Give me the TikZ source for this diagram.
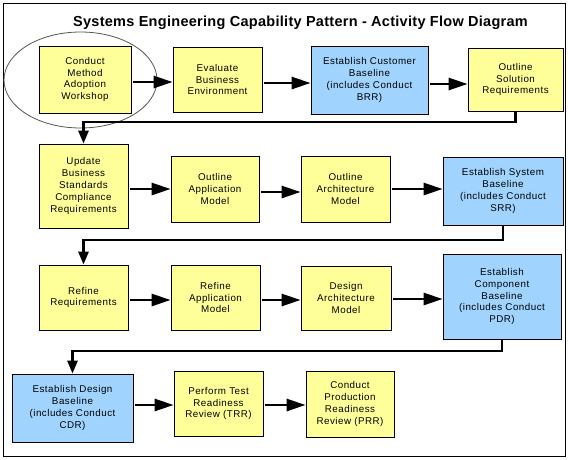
\documentclass[tikz,border=0pt]{standalone}
\usepackage{fontspec}
\setmainfont{Liberation Sans}
\newfontfamily\boxfont[LetterSpace=5]{Liberation Sans}
\newfontfamily\titlefont[LetterSpace=2]{Liberation Sans}
\usetikzlibrary{arrows.meta,shapes.geometric}
\definecolor{boxyellow}{RGB}{255,255,153}
\definecolor{boxblue}{RGB}{160,212,255}
\definecolor{ellgray}{RGB}{85,85,85}
\begin{document}
\begin{tikzpicture}[x=1pt,y=-1pt,
  box/.style={draw=black, line width=0.8pt, align=center, inner sep=1pt,
    font=\boxfont\fontsize{9.8}{11.8}\selectfont},
  ybox/.style={box, fill=boxyellow},
  bbox/.style={box, fill=boxblue},
  arr/.style={line width=2.7pt, shorten <=2pt, -{Triangle[length=19pt,width=12pt]}},
  darr/.style={line width=2.7pt, -{Triangle[length=13pt,width=10pt]}},
  frame/.style={draw=black, line width=1pt},
  ring/.style={draw=ellgray, line width=0.8pt}
]
\useasboundingbox (0,0) rectangle (568,459);
\draw[frame] (3,3) rectangle (565,456);
\node[anchor=base, font=\titlefont\bfseries\fontsize{14.5}{17}\selectfont] (title) at (300.5,26.7)
  {Systems Engineering Capability Pattern - Activity Flow Diagram};

% row 1
\node[ybox, minimum width=92, minimum height=67] (A) at (85,79.5) {Conduct\\Method\\Adoption\\Workshop};
\node[ybox, minimum width=89, minimum height=65] (B) at (217.5,79.5) {Evaluate\\Business\\Environment};
\node[bbox, minimum width=117, minimum height=68] (C) at (369.5,80) {Establish Customer\\Baseline\\(includes Conduct\\BRR)};
\node[ybox, minimum width=95, minimum height=63] (D) at (515.5,79.5) {Outline\\Solution\\Requirements};
% row 2
\node[ybox, minimum width=89, minimum height=84] (E) at (83.5,186) {Update\\Business\\Standards\\Compliance\\Requirements};
\node[ybox, minimum width=88, minimum height=66] (F) at (215,189) {Outline\\Application\\Model};
\node[ybox, minimum width=89, minimum height=66] (G) at (345.5,189) {Outline\\Architecture\\Model};
\node[bbox, minimum width=120, minimum height=68] (H) at (503,191) {Establish System\\Baseline\\(includes Conduct\\SRR)};
% row 3
\node[ybox, minimum width=89, minimum height=65] (I) at (83.5,297.5) {Refine\\Requirements};
\node[ybox, minimum width=89, minimum height=65] (J) at (215.5,297.5) {Refine\\Application\\Model};
\node[ybox, minimum width=90, minimum height=64] (K) at (346,298) {Design\\Architecture\\Model};
\node[bbox, minimum width=118, minimum height=85] (L) at (502,296.5) {Establish\\Component\\Baseline\\(includes Conduct\\PDR)};
% row 4
\node[bbox, minimum width=121, minimum height=68] (M) at (72.5,408) {Establish Design\\Baseline\\(includes Conduct\\CDR)};
\node[ybox, minimum width=89, minimum height=65] (N) at (218.5,403.5) {Perform Test\\Readiness\\Review (TRR)};
\node[ybox, minimum width=88, minimum height=66] (O) at (350,404) {Conduct\\Production\\Readiness\\Review (PRR)};

% ellipse around first activity
\node[ring, ellipse, minimum width=153, minimum height=96, inner sep=0pt] (ring) at (80.5,80) {};

% elbow turning points
\coordinate (t1) at (0,122);
\coordinate (t2) at (0,240);
\coordinate (t3) at (0,351);

% horizontal flows
\draw[arr] ([yshift=-2.5pt]A.east) -- ([yshift=-2.5pt]A.east -| B.west);
\draw[arr] ([yshift=-3.5pt]B.east) -- ([yshift=-3.5pt]B.east -| C.west);
\draw[arr] ([yshift=-4pt]C.east) -- ([yshift=-4pt]C.east -| D.west);
\draw[arr] (E.east |- F.west) -- (F.west);
\draw[arr] ([yshift=-3pt]F.east) -- ([yshift=-3pt]F.east -| G.west);
\draw[arr] (G.east) -- (G.east -| H.west);
\draw[arr] ([yshift=-2.5pt]I.east) -- ([yshift=-2.5pt]I.east -| J.west);
\draw[arr] ([yshift=-2.5pt]J.east) -- ([yshift=-2.5pt]J.east -| K.west);
\draw[arr] ([yshift=-1pt]K.east) -- ([yshift=-1pt]K.east -| L.west);
\draw[arr] ([yshift=-1.5pt]N.west -| M.east) -- ([yshift=-1.5pt]N.west);
\draw[arr] ([yshift=-1.5pt]N.east) -- ([yshift=-1.5pt]N.east -| O.west);

% row-to-row connectors
\draw[darr] (D.south) -- (D.south |- t1) -| (E.north);
\draw[darr] (H.south) -- (H.south |- t2) -| (I.north);
\draw[darr] (L.south) -- (L.south |- t3) -| (M.north);
\end{tikzpicture}
\end{document}
